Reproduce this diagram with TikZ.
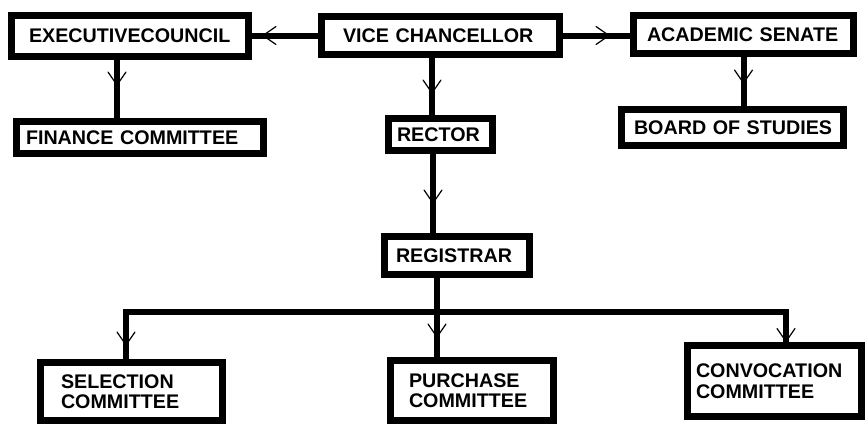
\documentclass[tikz,border=0pt]{standalone}
\usepackage{fontspec}
\setmainfont{Liberation Sans}
\usetikzlibrary{decorations.markings}

\tikzset{
  box/.style={draw, line width=7pt, align=left, inner ysep=0pt,
    font=\bfseries\fontsize{19.7}{20.5}\selectfont},
  conn/.style={line width=6pt},
  % open "V" head placed along a connector, #1 = distance (negative: from the end)
  vhead/.style={postaction={decorate, decoration={markings,
    mark=at position #1 with {\draw[line width=1.2pt, line cap=round]
      (-13pt,9pt) -- (0pt,0pt) -- (-13pt,-9pt);}}}}
}

\begin{document}
\begin{tikzpicture}[x=1pt, y=-1pt]
\fill[white] (0,0) rectangle (867,424);
\useasboundingbox (0,0) rectangle (867,424);

% boxes
\node[box, minimum width=237pt, minimum height=41pt, inner xsep=17.5pt, text width=202pt]
  (ec) at (130,36) {\mbox{EXECUTIVECOUNCIL}};
\node[box, minimum width=238pt, minimum height=38pt, inner xsep=21.5pt, text width=195pt]
  (vc) at (440.5,35.5) {\mbox{VICE CHANCELLOR}};
\node[box, minimum width=220pt, minimum height=38pt, inner xsep=13.5pt, text width=193pt]
  (as) at (743.5,34.5) {\mbox{ACADEMIC SENATE}};
\node[box, minimum width=247pt, minimum height=32pt, inner xsep=9.5pt, text width=228pt]
  (fc) at (140,137.5) {\mbox{FINANCE COMMITTEE}};
\node[box, minimum width=104pt, minimum height=32pt, inner xsep=8.5pt, text width=87pt]
  (rector) at (440.5,134.5) {\mbox{RECTOR}};
\node[box, minimum width=222pt, minimum height=36pt, inner xsep=12.5pt, text width=197pt]
  (bos) at (732.5,127.5) {\mbox{BOARD OF STUDIES}};
\node[box, minimum width=145pt, minimum height=38pt, inner xsep=11.5pt, text width=122pt]
  (reg) at (457,255.5) {\mbox{REGISTRAR}};
\node[box, minimum width=182pt, minimum height=58pt, inner xsep=20.5pt, text width=141pt]
  (sel) at (131.5,391.5) {SELECTION\\COMMITTEE};
\node[box, minimum width=163pt, minimum height=60pt, inner xsep=18.5pt, text width=126pt]
  (pur) at (472,390.5) {PURCHASE\\COMMITTEE};
\node[box, minimum width=174pt, minimum height=71pt, inner xsep=8.5pt, text width=157pt]
  (conv) at (774.5,381) {CONVOCATION\\COMMITTEE};

% connectors
\draw[conn, vhead=-11pt] (vc.west) -- (vc.west -| ec.east);
\draw[conn, vhead=-21pt] (vc.east) -- (vc.east -| as.west);
\draw[conn, vhead=-33pt] (117,0 |- ec.south) -- (117,0 |- fc.north);
\draw[conn, vhead=-22pt] (432,0 |- vc.south) -- (432,0 |- rector.north);
\draw[conn, vhead=-23pt] (as.south) -- (as.south |- bos.north);
\draw[conn, vhead=-30pt] (433,0 |- rector.south) -- (433,0 |- reg.north);

\coordinate (split) at (437,312);
\draw[conn, vhead=-14pt] (437,0 |- reg.south) -- (split) -| (126,0 |- sel.north);
\draw[conn, vhead=-20pt] (437,0 |- reg.south) -- (437,0 |- pur.north);
\draw[conn, vhead=-0.5pt] (split) -| (786,0 |- conv.north);
\end{tikzpicture}
\end{document}
